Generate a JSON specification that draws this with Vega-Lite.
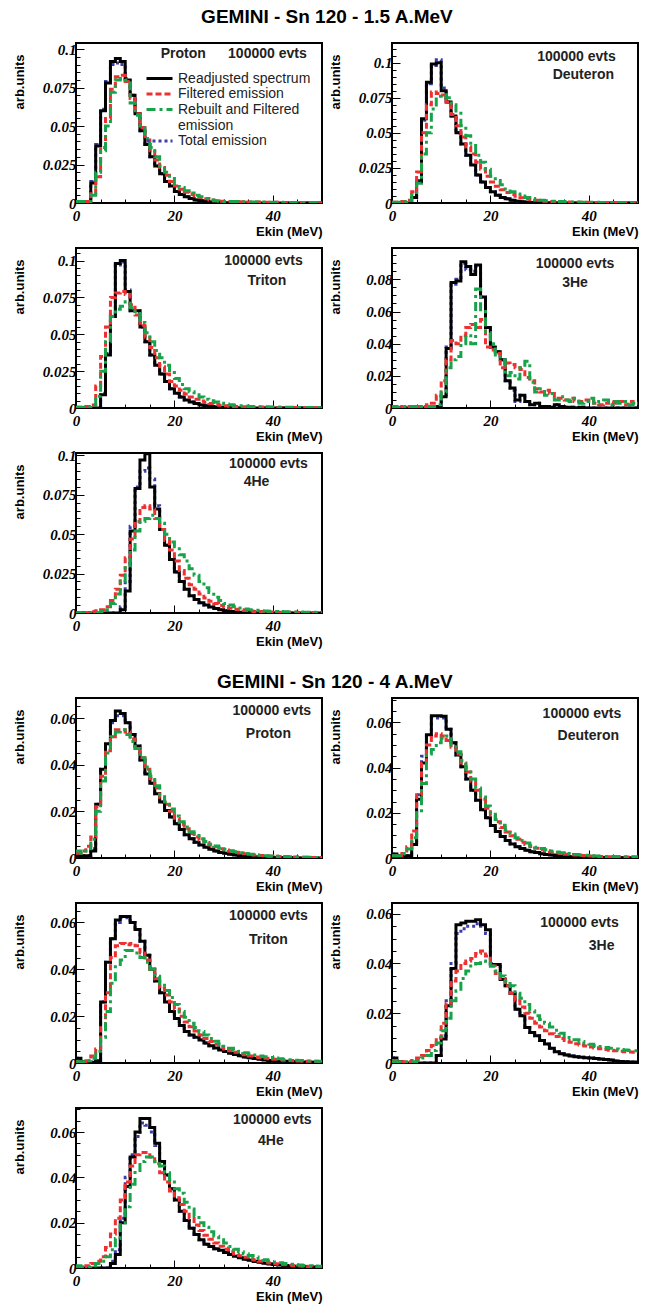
{
"padding":{"left":12,"top":8,"right":4,"bottom":4},
"background":"white",
"config":{
 "view":{"stroke":"#000","strokeWidth":2},
 "axis":{"domain":false,"grid":false,"tickColor":"#000","tickWidth":1,"labelColor":"#000","labelFont":"Liberation Serif","labelFontStyle":"italic","labelFontWeight":"bold","labelFontSize":15,"titleFont":"Liberation Sans","titleFontWeight":"bold","titleFontSize":13,"titleColor":"#000","labelPadding":4,"labelOverlap":false,"labelFlush":false},
 "axisX":{"titleAnchor":"end","titleAlign":"right","titleBaseline":"alphabetic","titleY":32,"labelPadding":13},
 "axisY":{"titleAnchor":"end","titleAlign":"right","titleAngle":270,"titleBaseline":"middle","titleX":-57,"titleY":11,"labelPadding":8}
},
"datasets":{"h":[
{"p":1,"x":0,"R":0,"F":0.001,"B":0.001,"T":0},
{"p":1,"x":1,"R":0,"F":0.001,"B":0.001,"T":0},
{"p":1,"x":2,"R":0.001,"F":0.001,"B":0.001,"T":0.001},
{"p":1,"x":3,"R":0.013,"F":0.006,"B":0.005,"T":0.014},
{"p":1,"x":4,"R":0.037,"F":0.017,"B":0.02,"T":0.038},
{"p":1,"x":5,"R":0.06,"F":0.036,"B":0.034,"T":0.061},
{"p":1,"x":6,"R":0.078,"F":0.055,"B":0.05,"T":0.079},
{"p":1,"x":7,"R":0.092,"F":0.074,"B":0.072,"T":0.09},
{"p":1,"x":8,"R":0.094,"F":0.082,"B":0.08,"T":0.091},
{"p":1,"x":9,"R":0.092,"F":0.083,"B":0.081,"T":0.09},
{"p":1,"x":10,"R":0.08,"F":0.079,"B":0.08,"T":0.081},
{"p":1,"x":11,"R":0.07,"F":0.068,"B":0.065,"T":0.07},
{"p":1,"x":12,"R":0.058,"F":0.058,"B":0.057,"T":0.058},
{"p":1,"x":13,"R":0.047,"F":0.049,"B":0.05,"T":0.047},
{"p":1,"x":14,"R":0.038,"F":0.041,"B":0.042,"T":0.038},
{"p":1,"x":15,"R":0.03,"F":0.034,"B":0.036,"T":0.03},
{"p":1,"x":16,"R":0.024,"F":0.028,"B":0.03,"T":0.024},
{"p":1,"x":17,"R":0.019,"F":0.023,"B":0.024,"T":0.019},
{"p":1,"x":18,"R":0.014,"F":0.018,"B":0.02,"T":0.014},
{"p":1,"x":19,"R":0.011,"F":0.014,"B":0.016,"T":0.011},
{"p":1,"x":20,"R":0.0075,"F":0.011,"B":0.012,"T":0.0075},
{"p":1,"x":21,"R":0.0055,"F":0.009,"B":0.01,"T":0.0055},
{"p":1,"x":22,"R":0.004,"F":0.007,"B":0.008,"T":0.004},
{"p":1,"x":23,"R":0.003,"F":0.0055,"B":0.0065,"T":0.003},
{"p":1,"x":24,"R":0.002,"F":0.0045,"B":0.005,"T":0.002},
{"p":1,"x":25,"R":0.0015,"F":0.0035,"B":0.004,"T":0.0015},
{"p":1,"x":26,"R":0.001,"F":0.0027,"B":0.003,"T":0.001},
{"p":1,"x":27,"R":0.0006,"F":0.002,"B":0.002,"T":0.0006},
{"p":1,"x":28,"R":0.0004,"F":0.0015,"B":0.0015,"T":0.0004},
{"p":1,"x":29,"R":0.0002,"F":0.0012,"B":0.0012,"T":0.0002},
{"p":1,"x":30,"R":0.0001,"F":0.001,"B":0.001,"T":0.0001},
{"p":1,"x":31,"R":0.0001,"F":0.0009,"B":0.001,"T":0.0001},
{"p":1,"x":32,"R":0,"F":0.0008,"B":0.0009,"T":0},
{"p":1,"x":33,"R":0,"F":0.0008,"B":0.0008,"T":0},
{"p":1,"x":34,"R":0,"F":0.0007,"B":0.0008,"T":0},
{"p":1,"x":35,"R":0,"F":0.0007,"B":0.0007,"T":0},
{"p":1,"x":36,"R":0,"F":0.0006,"B":0.0007,"T":0},
{"p":1,"x":37,"R":0,"F":0.0006,"B":0.0006,"T":0},
{"p":1,"x":38,"R":0,"F":0.0005,"B":0.0006,"T":0},
{"p":1,"x":39,"R":0,"F":0.0005,"B":0.0005,"T":0},
{"p":1,"x":40,"R":0,"F":0.0005,"B":0.0005,"T":0},
{"p":1,"x":41,"R":0,"F":0.0004,"B":0.0005,"T":0},
{"p":1,"x":42,"R":0,"F":0.0004,"B":0.0004,"T":0},
{"p":1,"x":43,"R":0,"F":0.0004,"B":0.0004,"T":0},
{"p":1,"x":44,"R":0,"F":0.0003,"B":0.0004,"T":0},
{"p":1,"x":45,"R":0,"F":0.0003,"B":0.0003,"T":0},
{"p":1,"x":46,"R":0,"F":0.0003,"B":0.0003,"T":0},
{"p":1,"x":47,"R":0,"F":0.0003,"B":0.0003,"T":0},
{"p":1,"x":48,"R":0,"F":0.0002,"B":0.0003,"T":0},
{"p":1,"x":49,"R":0,"F":0.0002,"B":0.0002,"T":0},
{"p":1,"x":50,"R":0,"F":0.0002,"B":0.0002,"T":0},
{"p":2,"x":0,"R":0,"F":0.0005,"B":0.0005,"T":0},
{"p":2,"x":1,"R":0,"F":0.0005,"B":0.0005,"T":0},
{"p":2,"x":2,"R":0,"F":0.001,"B":0.001,"T":0},
{"p":2,"x":3,"R":0,"F":0.002,"B":0.002,"T":0},
{"p":2,"x":4,"R":0.004,"F":0.008,"B":0.006,"T":0.004},
{"p":2,"x":5,"R":0.015,"F":0.022,"B":0.014,"T":0.016},
{"p":2,"x":6,"R":0.06,"F":0.05,"B":0.035,"T":0.059},
{"p":2,"x":7,"R":0.086,"F":0.07,"B":0.05,"T":0.085},
{"p":2,"x":8,"R":0.099,"F":0.079,"B":0.067,"T":0.098},
{"p":2,"x":9,"R":0.1,"F":0.078,"B":0.076,"T":0.102},
{"p":2,"x":10,"R":0.08,"F":0.077,"B":0.077,"T":0.082},
{"p":2,"x":11,"R":0.072,"F":0.072,"B":0.075,"T":0.072},
{"p":2,"x":12,"R":0.062,"F":0.063,"B":0.07,"T":0.062},
{"p":2,"x":13,"R":0.05,"F":0.055,"B":0.064,"T":0.05},
{"p":2,"x":14,"R":0.042,"F":0.047,"B":0.055,"T":0.042},
{"p":2,"x":15,"R":0.034,"F":0.04,"B":0.048,"T":0.034},
{"p":2,"x":16,"R":0.027,"F":0.035,"B":0.041,"T":0.027},
{"p":2,"x":17,"R":0.02,"F":0.029,"B":0.034,"T":0.02},
{"p":2,"x":18,"R":0.015,"F":0.024,"B":0.029,"T":0.015},
{"p":2,"x":19,"R":0.011,"F":0.019,"B":0.024,"T":0.011},
{"p":2,"x":20,"R":0.008,"F":0.015,"B":0.019,"T":0.008},
{"p":2,"x":21,"R":0.0055,"F":0.012,"B":0.016,"T":0.0055},
{"p":2,"x":22,"R":0.004,"F":0.0095,"B":0.013,"T":0.004},
{"p":2,"x":23,"R":0.003,"F":0.0075,"B":0.01,"T":0.003},
{"p":2,"x":24,"R":0.002,"F":0.006,"B":0.008,"T":0.002},
{"p":2,"x":25,"R":0.0013,"F":0.0048,"B":0.0065,"T":0.0013},
{"p":2,"x":26,"R":0.0009,"F":0.0038,"B":0.005,"T":0.0009},
{"p":2,"x":27,"R":0.0006,"F":0.003,"B":0.004,"T":0.0006},
{"p":2,"x":28,"R":0.0004,"F":0.0024,"B":0.0032,"T":0.0004},
{"p":2,"x":29,"R":0.0003,"F":0.0019,"B":0.0025,"T":0.0003},
{"p":2,"x":30,"R":0.0002,"F":0.0015,"B":0.002,"T":0.0002},
{"p":2,"x":31,"R":0.0001,"F":0.0012,"B":0.0016,"T":0.0001},
{"p":2,"x":32,"R":0,"F":0.001,"B":0.0013,"T":0},
{"p":2,"x":33,"R":0,"F":0.0009,"B":0.0011,"T":0},
{"p":2,"x":34,"R":0,"F":0.0008,"B":0.001,"T":0},
{"p":2,"x":35,"R":0,"F":0.0007,"B":0.0009,"T":0},
{"p":2,"x":36,"R":0,"F":0.0006,"B":0.0008,"T":0},
{"p":2,"x":37,"R":0,"F":0.0006,"B":0.0007,"T":0},
{"p":2,"x":38,"R":0,"F":0.0005,"B":0.0006,"T":0},
{"p":2,"x":39,"R":0,"F":0.0005,"B":0.0006,"T":0},
{"p":2,"x":40,"R":0,"F":0.0004,"B":0.0005,"T":0},
{"p":2,"x":41,"R":0,"F":0.0004,"B":0.0005,"T":0},
{"p":2,"x":42,"R":0,"F":0.0004,"B":0.0004,"T":0},
{"p":2,"x":43,"R":0,"F":0.0003,"B":0.0004,"T":0},
{"p":2,"x":44,"R":0,"F":0.0003,"B":0.0004,"T":0},
{"p":2,"x":45,"R":0,"F":0.0003,"B":0.0003,"T":0},
{"p":2,"x":46,"R":0,"F":0.0003,"B":0.0003,"T":0},
{"p":2,"x":47,"R":0,"F":0.0002,"B":0.0003,"T":0},
{"p":2,"x":48,"R":0,"F":0.0002,"B":0.0003,"T":0},
{"p":2,"x":49,"R":0,"F":0.0002,"B":0.0002,"T":0},
{"p":2,"x":50,"R":0,"F":0.0002,"B":0.0002,"T":0},
{"p":3,"x":0,"R":0,"F":0.0005,"B":0.0005,"T":0},
{"p":3,"x":1,"R":0,"F":0.0005,"B":0.0005,"T":0},
{"p":3,"x":2,"R":0,"F":0.001,"B":0.001,"T":0},
{"p":3,"x":3,"R":0,"F":0.002,"B":0.002,"T":0},
{"p":3,"x":4,"R":0,"F":0.015,"B":0.008,"T":0},
{"p":3,"x":5,"R":0.009,"F":0.035,"B":0.025,"T":0.01},
{"p":3,"x":6,"R":0.036,"F":0.055,"B":0.045,"T":0.037},
{"p":3,"x":7,"R":0.062,"F":0.075,"B":0.062,"T":0.063},
{"p":3,"x":8,"R":0.098,"F":0.078,"B":0.067,"T":0.097},
{"p":3,"x":9,"R":0.1,"F":0.079,"B":0.069,"T":0.099},
{"p":3,"x":10,"R":0.079,"F":0.077,"B":0.072,"T":0.08},
{"p":3,"x":11,"R":0.066,"F":0.07,"B":0.068,"T":0.066},
{"p":3,"x":12,"R":0.066,"F":0.063,"B":0.064,"T":0.066},
{"p":3,"x":13,"R":0.055,"F":0.056,"B":0.058,"T":0.055},
{"p":3,"x":14,"R":0.045,"F":0.048,"B":0.051,"T":0.045},
{"p":3,"x":15,"R":0.036,"F":0.041,"B":0.045,"T":0.036},
{"p":3,"x":16,"R":0.029,"F":0.034,"B":0.039,"T":0.029},
{"p":3,"x":17,"R":0.023,"F":0.028,"B":0.034,"T":0.023},
{"p":3,"x":18,"R":0.018,"F":0.023,"B":0.029,"T":0.018},
{"p":3,"x":19,"R":0.013,"F":0.018,"B":0.024,"T":0.013},
{"p":3,"x":20,"R":0.01,"F":0.015,"B":0.02,"T":0.01},
{"p":3,"x":21,"R":0.0075,"F":0.012,"B":0.016,"T":0.0075},
{"p":3,"x":22,"R":0.0055,"F":0.0095,"B":0.013,"T":0.0055},
{"p":3,"x":23,"R":0.004,"F":0.0075,"B":0.011,"T":0.004},
{"p":3,"x":24,"R":0.003,"F":0.006,"B":0.009,"T":0.003},
{"p":3,"x":25,"R":0.002,"F":0.0048,"B":0.0075,"T":0.002},
{"p":3,"x":26,"R":0.0015,"F":0.0038,"B":0.006,"T":0.0015},
{"p":3,"x":27,"R":0.001,"F":0.003,"B":0.005,"T":0.001},
{"p":3,"x":28,"R":0.0007,"F":0.0024,"B":0.004,"T":0.0007},
{"p":3,"x":29,"R":0.0005,"F":0.0019,"B":0.0033,"T":0.0005},
{"p":3,"x":30,"R":0.0003,"F":0.0015,"B":0.0027,"T":0.0003},
{"p":3,"x":31,"R":0.0002,"F":0.0012,"B":0.0022,"T":0.0002},
{"p":3,"x":32,"R":0.0001,"F":0.001,"B":0.0018,"T":0.0001},
{"p":3,"x":33,"R":0,"F":0.0009,"B":0.0015,"T":0},
{"p":3,"x":34,"R":0,"F":0.0008,"B":0.0013,"T":0},
{"p":3,"x":35,"R":0,"F":0.0007,"B":0.0011,"T":0},
{"p":3,"x":36,"R":0,"F":0.0006,"B":0.001,"T":0},
{"p":3,"x":37,"R":0,"F":0.0006,"B":0.0009,"T":0},
{"p":3,"x":38,"R":0,"F":0.0005,"B":0.0008,"T":0},
{"p":3,"x":39,"R":0,"F":0.0005,"B":0.0007,"T":0},
{"p":3,"x":40,"R":0,"F":0.0004,"B":0.0006,"T":0},
{"p":3,"x":41,"R":0,"F":0.0004,"B":0.0006,"T":0},
{"p":3,"x":42,"R":0,"F":0.0004,"B":0.0005,"T":0},
{"p":3,"x":43,"R":0,"F":0.0003,"B":0.0005,"T":0},
{"p":3,"x":44,"R":0,"F":0.0003,"B":0.0004,"T":0},
{"p":3,"x":45,"R":0,"F":0.0003,"B":0.0004,"T":0},
{"p":3,"x":46,"R":0,"F":0.0003,"B":0.0004,"T":0},
{"p":3,"x":47,"R":0,"F":0.0002,"B":0.0003,"T":0},
{"p":3,"x":48,"R":0,"F":0.0002,"B":0.0003,"T":0},
{"p":3,"x":49,"R":0,"F":0.0002,"B":0.0003,"T":0},
{"p":3,"x":50,"R":0,"F":0.0002,"B":0.0003,"T":0},
{"p":4,"x":0,"R":0,"F":0.0005,"B":0.001,"T":0},
{"p":4,"x":1,"R":0,"F":0.001,"B":0.0005,"T":0},
{"p":4,"x":2,"R":0,"F":0.0005,"B":0.001,"T":0},
{"p":4,"x":3,"R":0,"F":0.001,"B":0.0005,"T":0},
{"p":4,"x":4,"R":0,"F":0.0005,"B":0.001,"T":0},
{"p":4,"x":5,"R":0,"F":0.001,"B":0.0005,"T":0},
{"p":4,"x":6,"R":0,"F":0.001,"B":0.001,"T":0},
{"p":4,"x":7,"R":0,"F":0.002,"B":0.001,"T":0},
{"p":4,"x":8,"R":0,"F":0.003,"B":0.001,"T":0},
{"p":4,"x":9,"R":0.001,"F":0.008,"B":0.002,"T":0.001},
{"p":4,"x":10,"R":0.007,"F":0.017,"B":0.01,"T":0.008},
{"p":4,"x":11,"R":0.037,"F":0.03,"B":0.025,"T":0.038},
{"p":4,"x":12,"R":0.078,"F":0.042,"B":0.03,"T":0.077},
{"p":4,"x":13,"R":0.079,"F":0.04,"B":0.032,"T":0.08},
{"p":4,"x":14,"R":0.091,"F":0.045,"B":0.04,"T":0.09},
{"p":4,"x":15,"R":0.088,"F":0.05,"B":0.045,"T":0.086},
{"p":4,"x":16,"R":0.083,"F":0.052,"B":0.04,"T":0.085},
{"p":4,"x":17,"R":0.089,"F":0.05,"B":0.074,"T":0.088},
{"p":4,"x":18,"R":0.069,"F":0.055,"B":0.06,"T":0.069},
{"p":4,"x":19,"R":0.05,"F":0.038,"B":0.047,"T":0.05},
{"p":4,"x":20,"R":0.038,"F":0.036,"B":0.04,"T":0.038},
{"p":4,"x":21,"R":0.035,"F":0.034,"B":0.032,"T":0.035},
{"p":4,"x":22,"R":0.03,"F":0.025,"B":0.03,"T":0.03},
{"p":4,"x":23,"R":0.017,"F":0.028,"B":0.02,"T":0.017},
{"p":4,"x":24,"R":0.0125,"F":0.027,"B":0.022,"T":0.011},
{"p":4,"x":25,"R":0.005,"F":0.025,"B":0.018,"T":0.004},
{"p":4,"x":26,"R":0.008,"F":0.024,"B":0.025,"T":0.008},
{"p":4,"x":27,"R":0.004,"F":0.019,"B":0.029,"T":0.004},
{"p":4,"x":28,"R":0.002,"F":0.017,"B":0.016,"T":0.002},
{"p":4,"x":29,"R":0.003,"F":0.012,"B":0.01,"T":0.003},
{"p":4,"x":30,"R":0.001,"F":0.01,"B":0.012,"T":0.001},
{"p":4,"x":31,"R":0.001,"F":0.011,"B":0.008,"T":0.001},
{"p":4,"x":32,"R":0.0005,"F":0.009,"B":0.009,"T":0.0005},
{"p":4,"x":33,"R":0.002,"F":0.006,"B":0.005,"T":0.002},
{"p":4,"x":34,"R":0.001,"F":0.006,"B":0.007,"T":0.001},
{"p":4,"x":35,"R":0.0005,"F":0.005,"B":0.005,"T":0.0005},
{"p":4,"x":36,"R":0.0005,"F":0.006,"B":0.004,"T":0.0005},
{"p":4,"x":37,"R":0,"F":0.004,"B":0.006,"T":0},
{"p":4,"x":38,"R":0.0005,"F":0.004,"B":0.003,"T":0.0005},
{"p":4,"x":39,"R":0,"F":0.005,"B":0.004,"T":0},
{"p":4,"x":40,"R":0,"F":0.004,"B":0.006,"T":0},
{"p":4,"x":41,"R":0,"F":0.003,"B":0.003,"T":0},
{"p":4,"x":42,"R":0,"F":0.002,"B":0.004,"T":0},
{"p":4,"x":43,"R":0,"F":0.003,"B":0.005,"T":0},
{"p":4,"x":44,"R":0,"F":0.004,"B":0.002,"T":0},
{"p":4,"x":45,"R":0,"F":0.003,"B":0.004,"T":0},
{"p":4,"x":46,"R":0,"F":0.004,"B":0.003,"T":0},
{"p":4,"x":47,"R":0,"F":0.002,"B":0.004,"T":0},
{"p":4,"x":48,"R":0,"F":0.004,"B":0.002,"T":0},
{"p":4,"x":49,"R":0,"F":0.003,"B":0.003,"T":0},
{"p":4,"x":50,"R":0,"F":0.003,"B":0.003,"T":0},
{"p":5,"x":0,"R":0,"F":0,"B":0,"T":0},
{"p":5,"x":1,"R":0,"F":0,"B":0,"T":0},
{"p":5,"x":2,"R":0,"F":0,"B":0,"T":0},
{"p":5,"x":3,"R":0,"F":0.001,"B":0,"T":0},
{"p":5,"x":4,"R":0,"F":0.0015,"B":0,"T":0},
{"p":5,"x":5,"R":0,"F":0.002,"B":0.001,"T":0},
{"p":5,"x":6,"R":0,"F":0.004,"B":0.002,"T":0},
{"p":5,"x":7,"R":0,"F":0.008,"B":0.006,"T":0},
{"p":5,"x":8,"R":0,"F":0.015,"B":0.012,"T":0},
{"p":5,"x":9,"R":0.002,"F":0.024,"B":0.02,"T":0.004},
{"p":5,"x":10,"R":0.014,"F":0.035,"B":0.03,"T":0.02},
{"p":5,"x":11,"R":0.052,"F":0.047,"B":0.04,"T":0.055},
{"p":5,"x":12,"R":0.079,"F":0.058,"B":0.052,"T":0.08},
{"p":5,"x":13,"R":0.097,"F":0.067,"B":0.058,"T":0.09},
{"p":5,"x":14,"R":0.101,"F":0.068,"B":0.06,"T":0.092},
{"p":5,"x":15,"R":0.08,"F":0.066,"B":0.062,"T":0.085},
{"p":5,"x":16,"R":0.066,"F":0.06,"B":0.06,"T":0.068},
{"p":5,"x":17,"R":0.053,"F":0.053,"B":0.057,"T":0.053},
{"p":5,"x":18,"R":0.043,"F":0.046,"B":0.05,"T":0.043},
{"p":5,"x":19,"R":0.034,"F":0.04,"B":0.045,"T":0.034},
{"p":5,"x":20,"R":0.026,"F":0.033,"B":0.042,"T":0.026},
{"p":5,"x":21,"R":0.02,"F":0.027,"B":0.037,"T":0.02},
{"p":5,"x":22,"R":0.015,"F":0.022,"B":0.033,"T":0.015},
{"p":5,"x":23,"R":0.011,"F":0.018,"B":0.028,"T":0.011},
{"p":5,"x":24,"R":0.0085,"F":0.015,"B":0.024,"T":0.0085},
{"p":5,"x":25,"R":0.0065,"F":0.012,"B":0.02,"T":0.0065},
{"p":5,"x":26,"R":0.005,"F":0.0095,"B":0.016,"T":0.005},
{"p":5,"x":27,"R":0.0038,"F":0.0075,"B":0.013,"T":0.0038},
{"p":5,"x":28,"R":0.0028,"F":0.006,"B":0.01,"T":0.0028},
{"p":5,"x":29,"R":0.002,"F":0.0048,"B":0.008,"T":0.002},
{"p":5,"x":30,"R":0.0014,"F":0.0038,"B":0.006,"T":0.0014},
{"p":5,"x":31,"R":0.001,"F":0.003,"B":0.005,"T":0.001},
{"p":5,"x":32,"R":0.0007,"F":0.0024,"B":0.004,"T":0.0007},
{"p":5,"x":33,"R":0.0005,"F":0.002,"B":0.0032,"T":0.0005},
{"p":5,"x":34,"R":0.0003,"F":0.0016,"B":0.0026,"T":0.0003},
{"p":5,"x":35,"R":0.0002,"F":0.0013,"B":0.002,"T":0.0002},
{"p":5,"x":36,"R":0.0001,"F":0.001,"B":0.0018,"T":0.0001},
{"p":5,"x":37,"R":0,"F":0.0009,"B":0.0015,"T":0},
{"p":5,"x":38,"R":0,"F":0.0008,"B":0.0013,"T":0},
{"p":5,"x":39,"R":0,"F":0.0007,"B":0.0011,"T":0},
{"p":5,"x":40,"R":0,"F":0.0006,"B":0.001,"T":0},
{"p":5,"x":41,"R":0,"F":0.0005,"B":0.0009,"T":0},
{"p":5,"x":42,"R":0,"F":0.0005,"B":0.0008,"T":0},
{"p":5,"x":43,"R":0,"F":0.0004,"B":0.0007,"T":0},
{"p":5,"x":44,"R":0,"F":0.0004,"B":0.0006,"T":0},
{"p":5,"x":45,"R":0,"F":0.0003,"B":0.0006,"T":0},
{"p":5,"x":46,"R":0,"F":0.0003,"B":0.0005,"T":0},
{"p":5,"x":47,"R":0,"F":0.0003,"B":0.0005,"T":0},
{"p":5,"x":48,"R":0,"F":0.0002,"B":0.0004,"T":0},
{"p":5,"x":49,"R":0,"F":0.0002,"B":0.0004,"T":0},
{"p":5,"x":50,"R":0,"F":0.0002,"B":0.0004,"T":0},
{"p":6,"x":0,"R":0.001,"F":0.002,"B":0.003,"T":0.001},
{"p":6,"x":1,"R":0.001,"F":0.003,"B":0.002,"T":0.001},
{"p":6,"x":2,"R":0.001,"F":0.005,"B":0.004,"T":0.001},
{"p":6,"x":3,"R":0.003,"F":0.009,"B":0.008,"T":0.004},
{"p":6,"x":4,"R":0.023,"F":0.022,"B":0.02,"T":0.023},
{"p":6,"x":5,"R":0.038,"F":0.035,"B":0.033,"T":0.038},
{"p":6,"x":6,"R":0.049,"F":0.046,"B":0.045,"T":0.049},
{"p":6,"x":7,"R":0.059,"F":0.052,"B":0.052,"T":0.058},
{"p":6,"x":8,"R":0.063,"F":0.055,"B":0.054,"T":0.061},
{"p":6,"x":9,"R":0.062,"F":0.055,"B":0.055,"T":0.061},
{"p":6,"x":10,"R":0.058,"F":0.054,"B":0.053,"T":0.058},
{"p":6,"x":11,"R":0.053,"F":0.051,"B":0.05,"T":0.053},
{"p":6,"x":12,"R":0.048,"F":0.047,"B":0.047,"T":0.048},
{"p":6,"x":13,"R":0.042,"F":0.043,"B":0.043,"T":0.042},
{"p":6,"x":14,"R":0.036,"F":0.038,"B":0.039,"T":0.036},
{"p":6,"x":15,"R":0.032,"F":0.034,"B":0.035,"T":0.032},
{"p":6,"x":16,"R":0.0276,"F":0.03,"B":0.031,"T":0.0276},
{"p":6,"x":17,"R":0.024,"F":0.026,"B":0.027,"T":0.024},
{"p":6,"x":18,"R":0.0204,"F":0.023,"B":0.024,"T":0.0204},
{"p":6,"x":19,"R":0.0176,"F":0.02,"B":0.021,"T":0.0176},
{"p":6,"x":20,"R":0.0147,"F":0.017,"B":0.018,"T":0.0147},
{"p":6,"x":21,"R":0.0122,"F":0.0145,"B":0.0155,"T":0.0122},
{"p":6,"x":22,"R":0.01,"F":0.0125,"B":0.0133,"T":0.01},
{"p":6,"x":23,"R":0.0083,"F":0.0105,"B":0.0113,"T":0.0083},
{"p":6,"x":24,"R":0.0068,"F":0.009,"B":0.0097,"T":0.0068},
{"p":6,"x":25,"R":0.0056,"F":0.0077,"B":0.0083,"T":0.0056},
{"p":6,"x":26,"R":0.0046,"F":0.0066,"B":0.0071,"T":0.0046},
{"p":6,"x":27,"R":0.0037,"F":0.0056,"B":0.006,"T":0.0037},
{"p":6,"x":28,"R":0.003,"F":0.0048,"B":0.0051,"T":0.003},
{"p":6,"x":29,"R":0.0024,"F":0.004,"B":0.0043,"T":0.0024},
{"p":6,"x":30,"R":0.002,"F":0.0034,"B":0.0037,"T":0.002},
{"p":6,"x":31,"R":0.0016,"F":0.0029,"B":0.0031,"T":0.0016},
{"p":6,"x":32,"R":0.0013,"F":0.0025,"B":0.0027,"T":0.0013},
{"p":6,"x":33,"R":0.001,"F":0.0021,"B":0.0023,"T":0.001},
{"p":6,"x":34,"R":0.0008,"F":0.0018,"B":0.0019,"T":0.0008},
{"p":6,"x":35,"R":0.0006,"F":0.0015,"B":0.0016,"T":0.0006},
{"p":6,"x":36,"R":0.0005,"F":0.0013,"B":0.0014,"T":0.0005},
{"p":6,"x":37,"R":0.0004,"F":0.0011,"B":0.0012,"T":0.0004},
{"p":6,"x":38,"R":0.0003,"F":0.001,"B":0.001,"T":0.0003},
{"p":6,"x":39,"R":0.0002,"F":0.0008,"B":0.0009,"T":0.0002},
{"p":6,"x":40,"R":0.0001,"F":0.0007,"B":0.0008,"T":0.0001},
{"p":6,"x":41,"R":0.0001,"F":0.0006,"B":0.0007,"T":0.0001},
{"p":6,"x":42,"R":0.0001,"F":0.0005,"B":0.0006,"T":0.0001},
{"p":6,"x":43,"R":0.0001,"F":0.0004,"B":0.0005,"T":0.0001},
{"p":6,"x":44,"R":0.0001,"F":0.0004,"B":0.0004,"T":0.0001},
{"p":6,"x":45,"R":0,"F":0.0003,"B":0.0004,"T":0},
{"p":6,"x":46,"R":0,"F":0.0003,"B":0.0003,"T":0},
{"p":6,"x":47,"R":0,"F":0.0002,"B":0.0003,"T":0},
{"p":6,"x":48,"R":0,"F":0.0002,"B":0.0002,"T":0},
{"p":6,"x":49,"R":0,"F":0.0002,"B":0.0002,"T":0},
{"p":6,"x":50,"R":0,"F":0.0002,"B":0.0002,"T":0},
{"p":7,"x":0,"R":0.0018,"F":0.001,"B":0.001,"T":0.0018},
{"p":7,"x":1,"R":0.001,"F":0.001,"B":0.001,"T":0.001},
{"p":7,"x":2,"R":0.0005,"F":0.002,"B":0.002,"T":0.0005},
{"p":7,"x":3,"R":0.001,"F":0.005,"B":0.004,"T":0.001},
{"p":7,"x":4,"R":0.006,"F":0.012,"B":0.009,"T":0.007},
{"p":7,"x":5,"R":0.026,"F":0.028,"B":0.02,"T":0.028},
{"p":7,"x":6,"R":0.042,"F":0.042,"B":0.033,"T":0.045},
{"p":7,"x":7,"R":0.0545,"F":0.05,"B":0.046,"T":0.054},
{"p":7,"x":8,"R":0.063,"F":0.054,"B":0.048,"T":0.062},
{"p":7,"x":9,"R":0.063,"F":0.055,"B":0.051,"T":0.062},
{"p":7,"x":10,"R":0.0627,"F":0.054,"B":0.053,"T":0.062},
{"p":7,"x":11,"R":0.057,"F":0.052,"B":0.054,"T":0.057},
{"p":7,"x":12,"R":0.051,"F":0.049,"B":0.05,"T":0.051},
{"p":7,"x":13,"R":0.0456,"F":0.046,"B":0.047,"T":0.0456},
{"p":7,"x":14,"R":0.0404,"F":0.042,"B":0.043,"T":0.0404},
{"p":7,"x":15,"R":0.035,"F":0.038,"B":0.039,"T":0.035},
{"p":7,"x":16,"R":0.03,"F":0.034,"B":0.035,"T":0.03},
{"p":7,"x":17,"R":0.0255,"F":0.03,"B":0.031,"T":0.0255},
{"p":7,"x":18,"R":0.0214,"F":0.026,"B":0.027,"T":0.0214},
{"p":7,"x":19,"R":0.0178,"F":0.022,"B":0.023,"T":0.0178},
{"p":7,"x":20,"R":0.0144,"F":0.019,"B":0.02,"T":0.0144},
{"p":7,"x":21,"R":0.0117,"F":0.016,"B":0.017,"T":0.0117},
{"p":7,"x":22,"R":0.0095,"F":0.0135,"B":0.0145,"T":0.0095},
{"p":7,"x":23,"R":0.0077,"F":0.0115,"B":0.0124,"T":0.0077},
{"p":7,"x":24,"R":0.0062,"F":0.0098,"B":0.0106,"T":0.0062},
{"p":7,"x":25,"R":0.005,"F":0.0083,"B":0.009,"T":0.005},
{"p":7,"x":26,"R":0.0042,"F":0.007,"B":0.0077,"T":0.0042},
{"p":7,"x":27,"R":0.0034,"F":0.006,"B":0.0066,"T":0.0034},
{"p":7,"x":28,"R":0.0028,"F":0.0051,"B":0.0056,"T":0.0028},
{"p":7,"x":29,"R":0.0024,"F":0.0043,"B":0.0048,"T":0.0024},
{"p":7,"x":30,"R":0.0019,"F":0.0037,"B":0.0042,"T":0.0019},
{"p":7,"x":31,"R":0.0016,"F":0.0032,"B":0.0036,"T":0.0016},
{"p":7,"x":32,"R":0.0013,"F":0.0027,"B":0.0031,"T":0.0013},
{"p":7,"x":33,"R":0.0011,"F":0.0023,"B":0.0027,"T":0.0011},
{"p":7,"x":34,"R":0.0009,"F":0.002,"B":0.0023,"T":0.0009},
{"p":7,"x":35,"R":0.0007,"F":0.0017,"B":0.002,"T":0.0007},
{"p":7,"x":36,"R":0.0006,"F":0.0015,"B":0.0018,"T":0.0006},
{"p":7,"x":37,"R":0.0005,"F":0.0013,"B":0.0015,"T":0.0005},
{"p":7,"x":38,"R":0.0004,"F":0.0011,"B":0.0013,"T":0.0004},
{"p":7,"x":39,"R":0.0003,"F":0.001,"B":0.0012,"T":0.0003},
{"p":7,"x":40,"R":0.0003,"F":0.0009,"B":0.001,"T":0.0003},
{"p":7,"x":41,"R":0.0002,"F":0.0008,"B":0.0009,"T":0.0002},
{"p":7,"x":42,"R":0.0002,"F":0.0007,"B":0.0008,"T":0.0002},
{"p":7,"x":43,"R":0.0002,"F":0.0006,"B":0.0007,"T":0.0002},
{"p":7,"x":44,"R":0.0002,"F":0.0006,"B":0.0007,"T":0.0002},
{"p":7,"x":45,"R":0.0002,"F":0.0005,"B":0.0006,"T":0.0002},
{"p":7,"x":46,"R":0.0001,"F":0.0005,"B":0.0005,"T":0.0001},
{"p":7,"x":47,"R":0.0001,"F":0.0004,"B":0.0005,"T":0.0001},
{"p":7,"x":48,"R":0.0001,"F":0.0004,"B":0.0005,"T":0.0001},
{"p":7,"x":49,"R":0.0001,"F":0.0004,"B":0.0004,"T":0.0001},
{"p":7,"x":50,"R":0.0001,"F":0.0004,"B":0.0004,"T":0.0001},
{"p":8,"x":0,"R":0.002,"F":0.0005,"B":0.0005,"T":0.002},
{"p":8,"x":1,"R":0.0005,"F":0.0005,"B":0.0005,"T":0.0005},
{"p":8,"x":2,"R":0.0003,"F":0.001,"B":0.001,"T":0.0003},
{"p":8,"x":3,"R":0.0003,"F":0.003,"B":0.002,"T":0.0003},
{"p":8,"x":4,"R":0.001,"F":0.006,"B":0.005,"T":0.001},
{"p":8,"x":5,"R":0.026,"F":0.015,"B":0.011,"T":0.026},
{"p":8,"x":6,"R":0.043,"F":0.03,"B":0.022,"T":0.043},
{"p":8,"x":7,"R":0.053,"F":0.045,"B":0.034,"T":0.053},
{"p":8,"x":8,"R":0.061,"F":0.05,"B":0.042,"T":0.06},
{"p":8,"x":9,"R":0.0625,"F":0.051,"B":0.044,"T":0.062},
{"p":8,"x":10,"R":0.0625,"F":0.0505,"B":0.048,"T":0.062},
{"p":8,"x":11,"R":0.06,"F":0.051,"B":0.048,"T":0.06},
{"p":8,"x":12,"R":0.057,"F":0.05,"B":0.047,"T":0.057},
{"p":8,"x":13,"R":0.052,"F":0.047,"B":0.045,"T":0.052},
{"p":8,"x":14,"R":0.046,"F":0.044,"B":0.043,"T":0.046},
{"p":8,"x":15,"R":0.04,"F":0.04,"B":0.04,"T":0.04},
{"p":8,"x":16,"R":0.035,"F":0.036,"B":0.037,"T":0.035},
{"p":8,"x":17,"R":0.03,"F":0.032,"B":0.034,"T":0.03},
{"p":8,"x":18,"R":0.026,"F":0.029,"B":0.031,"T":0.026},
{"p":8,"x":19,"R":0.022,"F":0.026,"B":0.028,"T":0.022},
{"p":8,"x":20,"R":0.019,"F":0.023,"B":0.025,"T":0.019},
{"p":8,"x":21,"R":0.016,"F":0.02,"B":0.022,"T":0.016},
{"p":8,"x":22,"R":0.0135,"F":0.0175,"B":0.0195,"T":0.0135},
{"p":8,"x":23,"R":0.012,"F":0.0155,"B":0.017,"T":0.012},
{"p":8,"x":24,"R":0.011,"F":0.0137,"B":0.0152,"T":0.011},
{"p":8,"x":25,"R":0.0098,"F":0.012,"B":0.0135,"T":0.0098},
{"p":8,"x":26,"R":0.0085,"F":0.0105,"B":0.012,"T":0.0085},
{"p":8,"x":27,"R":0.0074,"F":0.0092,"B":0.0105,"T":0.0074},
{"p":8,"x":28,"R":0.0064,"F":0.008,"B":0.0093,"T":0.0064},
{"p":8,"x":29,"R":0.0056,"F":0.007,"B":0.0082,"T":0.0056},
{"p":8,"x":30,"R":0.0049,"F":0.006,"B":0.0072,"T":0.0049},
{"p":8,"x":31,"R":0.0042,"F":0.0052,"B":0.0063,"T":0.0042},
{"p":8,"x":32,"R":0.0036,"F":0.0046,"B":0.0056,"T":0.0036},
{"p":8,"x":33,"R":0.0031,"F":0.004,"B":0.005,"T":0.0031},
{"p":8,"x":34,"R":0.0026,"F":0.0035,"B":0.0044,"T":0.0026},
{"p":8,"x":35,"R":0.0022,"F":0.003,"B":0.0039,"T":0.0022},
{"p":8,"x":36,"R":0.0019,"F":0.0026,"B":0.0034,"T":0.0019},
{"p":8,"x":37,"R":0.0016,"F":0.0023,"B":0.003,"T":0.0016},
{"p":8,"x":38,"R":0.0013,"F":0.002,"B":0.0027,"T":0.0013},
{"p":8,"x":39,"R":0.0011,"F":0.0018,"B":0.0024,"T":0.0011},
{"p":8,"x":40,"R":0.0009,"F":0.0016,"B":0.0021,"T":0.0009},
{"p":8,"x":41,"R":0.0008,"F":0.0014,"B":0.0018,"T":0.0008},
{"p":8,"x":42,"R":0.0007,"F":0.0012,"B":0.0016,"T":0.0007},
{"p":8,"x":43,"R":0.0006,"F":0.0011,"B":0.0014,"T":0.0006},
{"p":8,"x":44,"R":0.0005,"F":0.001,"B":0.0012,"T":0.0005},
{"p":8,"x":45,"R":0.0004,"F":0.0009,"B":0.0011,"T":0.0004},
{"p":8,"x":46,"R":0.0004,"F":0.0008,"B":0.001,"T":0.0004},
{"p":8,"x":47,"R":0.0003,"F":0.0007,"B":0.0009,"T":0.0003},
{"p":8,"x":48,"R":0.0003,"F":0.0007,"B":0.0008,"T":0.0003},
{"p":8,"x":49,"R":0.0002,"F":0.0006,"B":0.0008,"T":0.0002},
{"p":8,"x":50,"R":0.0002,"F":0.0006,"B":0.0008,"T":0.0002},
{"p":9,"x":0,"R":0.002,"F":0.001,"B":0.0005,"T":0.002},
{"p":9,"x":1,"R":0.0005,"F":0.0005,"B":0.0005,"T":0.0005},
{"p":9,"x":2,"R":0,"F":0.0005,"B":0.0005,"T":0},
{"p":9,"x":3,"R":0,"F":0.0005,"B":0.0005,"T":0},
{"p":9,"x":4,"R":0,"F":0.001,"B":0.0005,"T":0},
{"p":9,"x":5,"R":0,"F":0.002,"B":0.001,"T":0},
{"p":9,"x":6,"R":0,"F":0.003,"B":0.002,"T":0},
{"p":9,"x":7,"R":0,"F":0.005,"B":0.003,"T":0},
{"p":9,"x":8,"R":0,"F":0.007,"B":0.005,"T":0},
{"p":9,"x":9,"R":0.003,"F":0.01,"B":0.008,"T":0.003},
{"p":9,"x":10,"R":0.0096,"F":0.016,"B":0.013,"T":0.011},
{"p":9,"x":11,"R":0.023,"F":0.024,"B":0.018,"T":0.025},
{"p":9,"x":12,"R":0.038,"F":0.033,"B":0.025,"T":0.04},
{"p":9,"x":13,"R":0.0556,"F":0.037,"B":0.029,"T":0.052},
{"p":9,"x":14,"R":0.0563,"F":0.04,"B":0.034,"T":0.054},
{"p":9,"x":15,"R":0.057,"F":0.041,"B":0.037,"T":0.055},
{"p":9,"x":16,"R":0.057,"F":0.042,"B":0.039,"T":0.055},
{"p":9,"x":17,"R":0.0576,"F":0.044,"B":0.04,"T":0.056},
{"p":9,"x":18,"R":0.0556,"F":0.045,"B":0.041,"T":0.055},
{"p":9,"x":19,"R":0.0536,"F":0.043,"B":0.04,"T":0.052},
{"p":9,"x":20,"R":0.0396,"F":0.039,"B":0.039,"T":0.04},
{"p":9,"x":21,"R":0.0396,"F":0.036,"B":0.037,"T":0.0396},
{"p":9,"x":22,"R":0.0336,"F":0.034,"B":0.035,"T":0.0336},
{"p":9,"x":23,"R":0.031,"F":0.031,"B":0.033,"T":0.031},
{"p":9,"x":24,"R":0.028,"F":0.028,"B":0.031,"T":0.028},
{"p":9,"x":25,"R":0.0216,"F":0.025,"B":0.028,"T":0.0216},
{"p":9,"x":26,"R":0.019,"F":0.0225,"B":0.026,"T":0.019},
{"p":9,"x":27,"R":0.0143,"F":0.02,"B":0.0235,"T":0.0143},
{"p":9,"x":28,"R":0.0123,"F":0.018,"B":0.021,"T":0.0123},
{"p":9,"x":29,"R":0.011,"F":0.016,"B":0.019,"T":0.011},
{"p":9,"x":30,"R":0.009,"F":0.0145,"B":0.0175,"T":0.009},
{"p":9,"x":31,"R":0.0076,"F":0.013,"B":0.016,"T":0.0076},
{"p":9,"x":32,"R":0.0059,"F":0.0118,"B":0.0145,"T":0.0059},
{"p":9,"x":33,"R":0.0045,"F":0.0107,"B":0.0132,"T":0.0045},
{"p":9,"x":34,"R":0.0037,"F":0.0098,"B":0.012,"T":0.0037},
{"p":9,"x":35,"R":0.0032,"F":0.009,"B":0.011,"T":0.0032},
{"p":9,"x":36,"R":0.0028,"F":0.0083,"B":0.0101,"T":0.0028},
{"p":9,"x":37,"R":0.0025,"F":0.0077,"B":0.0093,"T":0.0025},
{"p":9,"x":38,"R":0.0023,"F":0.0072,"B":0.0086,"T":0.0023},
{"p":9,"x":39,"R":0.0021,"F":0.0068,"B":0.008,"T":0.0021},
{"p":9,"x":40,"R":0.002,"F":0.0064,"B":0.0075,"T":0.002},
{"p":9,"x":41,"R":0.0018,"F":0.006,"B":0.007,"T":0.0018},
{"p":9,"x":42,"R":0.0016,"F":0.0057,"B":0.0066,"T":0.0016},
{"p":9,"x":43,"R":0.0014,"F":0.0054,"B":0.0062,"T":0.0014},
{"p":9,"x":44,"R":0.0012,"F":0.0051,"B":0.0059,"T":0.0012},
{"p":9,"x":45,"R":0.0008,"F":0.0049,"B":0.0056,"T":0.0008},
{"p":9,"x":46,"R":0.0006,"F":0.0047,"B":0.0054,"T":0.0006},
{"p":9,"x":47,"R":0.0005,"F":0.0045,"B":0.0052,"T":0.0005},
{"p":9,"x":48,"R":0.0004,"F":0.0044,"B":0.005,"T":0.0004},
{"p":9,"x":49,"R":0.0004,"F":0.0043,"B":0.0049,"T":0.0004},
{"p":9,"x":50,"R":0.0004,"F":0.0043,"B":0.0049,"T":0.0004},
{"p":10,"x":0,"R":0,"F":0.0005,"B":0.001,"T":0},
{"p":10,"x":1,"R":0,"F":0.0005,"B":0.0005,"T":0},
{"p":10,"x":2,"R":0,"F":0.001,"B":0.0005,"T":0},
{"p":10,"x":3,"R":0,"F":0.002,"B":0.001,"T":0},
{"p":10,"x":4,"R":0,"F":0.003,"B":0.002,"T":0},
{"p":10,"x":5,"R":0,"F":0.005,"B":0.003,"T":0},
{"p":10,"x":6,"R":0,"F":0.009,"B":0.005,"T":0},
{"p":10,"x":7,"R":0.002,"F":0.015,"B":0.008,"T":0.003},
{"p":10,"x":8,"R":0.006,"F":0.022,"B":0.013,"T":0.008},
{"p":10,"x":9,"R":0.02,"F":0.03,"B":0.02,"T":0.022},
{"p":10,"x":10,"R":0.036,"F":0.038,"B":0.027,"T":0.04},
{"p":10,"x":11,"R":0.049,"F":0.045,"B":0.037,"T":0.05},
{"p":10,"x":12,"R":0.06,"F":0.05,"B":0.043,"T":0.058},
{"p":10,"x":13,"R":0.066,"F":0.051,"B":0.047,"T":0.064},
{"p":10,"x":14,"R":0.066,"F":0.051,"B":0.049,"T":0.063},
{"p":10,"x":15,"R":0.062,"F":0.049,"B":0.049,"T":0.06},
{"p":10,"x":16,"R":0.055,"F":0.046,"B":0.047,"T":0.054},
{"p":10,"x":17,"R":0.047,"F":0.042,"B":0.045,"T":0.047},
{"p":10,"x":18,"R":0.041,"F":0.038,"B":0.042,"T":0.041},
{"p":10,"x":19,"R":0.035,"F":0.034,"B":0.039,"T":0.035},
{"p":10,"x":20,"R":0.03,"F":0.031,"B":0.035,"T":0.03},
{"p":10,"x":21,"R":0.025,"F":0.028,"B":0.033,"T":0.025},
{"p":10,"x":22,"R":0.021,"F":0.025,"B":0.029,"T":0.021},
{"p":10,"x":23,"R":0.0175,"F":0.022,"B":0.026,"T":0.0175},
{"p":10,"x":24,"R":0.0148,"F":0.019,"B":0.023,"T":0.0148},
{"p":10,"x":25,"R":0.0125,"F":0.0165,"B":0.02,"T":0.0125},
{"p":10,"x":26,"R":0.0105,"F":0.0145,"B":0.018,"T":0.0105},
{"p":10,"x":27,"R":0.0095,"F":0.0127,"B":0.016,"T":0.0095},
{"p":10,"x":28,"R":0.0085,"F":0.011,"B":0.014,"T":0.0085},
{"p":10,"x":29,"R":0.0078,"F":0.0096,"B":0.0125,"T":0.0078},
{"p":10,"x":30,"R":0.0068,"F":0.0083,"B":0.011,"T":0.0068},
{"p":10,"x":31,"R":0.006,"F":0.0072,"B":0.0095,"T":0.006},
{"p":10,"x":32,"R":0.0052,"F":0.0062,"B":0.0083,"T":0.0052},
{"p":10,"x":33,"R":0.0045,"F":0.0054,"B":0.0072,"T":0.0045},
{"p":10,"x":34,"R":0.0039,"F":0.0047,"B":0.0063,"T":0.0039},
{"p":10,"x":35,"R":0.0034,"F":0.004,"B":0.0055,"T":0.0034},
{"p":10,"x":36,"R":0.0029,"F":0.0035,"B":0.0048,"T":0.0029},
{"p":10,"x":37,"R":0.0025,"F":0.003,"B":0.0042,"T":0.0025},
{"p":10,"x":38,"R":0.0021,"F":0.0026,"B":0.0036,"T":0.0021},
{"p":10,"x":39,"R":0.0018,"F":0.0022,"B":0.0031,"T":0.0018},
{"p":10,"x":40,"R":0.0015,"F":0.0019,"B":0.0027,"T":0.0015},
{"p":10,"x":41,"R":0.0013,"F":0.0016,"B":0.0023,"T":0.0013},
{"p":10,"x":42,"R":0.0011,"F":0.0014,"B":0.002,"T":0.0011},
{"p":10,"x":43,"R":0.0009,"F":0.0012,"B":0.0017,"T":0.0009},
{"p":10,"x":44,"R":0.0008,"F":0.001,"B":0.0015,"T":0.0008},
{"p":10,"x":45,"R":0.0007,"F":0.0009,"B":0.0013,"T":0.0007},
{"p":10,"x":46,"R":0.0006,"F":0.0008,"B":0.0011,"T":0.0006},
{"p":10,"x":47,"R":0.0005,"F":0.0007,"B":0.001,"T":0.0005},
{"p":10,"x":48,"R":0.0004,"F":0.0006,"B":0.0009,"T":0.0004},
{"p":10,"x":49,"R":0.0004,"F":0.0005,"B":0.0008,"T":0.0004},
{"p":10,"x":50,"R":0.0004,"F":0.0005,"B":0.0008,"T":0.0004}
]},
"spacing":24,
"resolve":{"scale":{"color":"independent","strokeDash":"independent"},"legend":{"color":"independent","strokeDash":"independent"}},
"vconcat":[
{"title":{"text":"GEMINI - Sn 120 - 1.5 A.MeV","anchor":"middle","align":"right","dx":127,"dy":1,"baseline":"alphabetic","offset":0,"font":"Liberation Sans","fontSize":19,"fontWeight":"bold","color":"#000"},
 "columns":2,"spacing":{"row":45,"column":70},"bounds":"flush",
 "resolve":{"scale":{"color":"independent","strokeDash":"independent"},"legend":{"color":"independent","strokeDash":"independent"}},
 "concat":[
  {"width":246,"height":160,"resolve":{"axis":{"x":"independent","y":"independent"}},"layer":[
   {"data":{"name":"h"},"transform":[{"filter":"datum.p==1"},{"fold":["T","R","F","B"],"as":["s","v"]}],
    "mark":{"type":"line","interpolate":"step-after","strokeWidth":3,"clip":true},
    "encoding":{
     "x":{"field":"x","type":"quantitative","scale":{"domain":[0,50],"nice":false},"axis":{"labelOverlap":false,"values":[0,20,40],"labelExpr":"format(datum.value,'d')","tickSize":-8,"title":"Ekin (MeV)"}},
     "y":{"field":"v","type":"quantitative","scale":{"domain":[0,0.104],"nice":false},"axis":{"labelOverlap":false,"values":[0,0.025,0.05,0.075,0.1],"labelExpr":"format(datum.value,'~g')","tickSize":-8,"title":"arb.units"}},
     "color":{"field":"s","type":"nominal","scale":{"domain":["R","F","B","T"],"range":["#000000","#ee3030","#17a34a","#3a3fa5"]},"legend":{"orient":"none","legendX":76.5,"legendY":28.5,"gridAlign":"none","title":null,"symbolType":"M-2.6,0H2.6","symbolSize":100,"symbolStrokeWidth":3,"labelFont":"Liberation Sans","labelFontSize":14,"labelColor":"#222","labelLimit":400,"labelOffset":11.5,"rowPadding":1.5,"labelExpr":"datum.value=='R'?'Readjusted spectrum':datum.value=='F'?'Filtered emission':datum.value=='B'?['Rebuilt and Filtered','emission']:'Total emission'"}},
     "strokeDash":{"field":"s","type":"nominal","scale":{"domain":["R","F","B","T"],"range":[[1,0],[6,3],[9,4,3,4],[3,3]]},"legend":{"orient":"none","legendX":76.5,"legendY":28.5,"gridAlign":"none","title":null,"symbolType":"M-2.6,0H2.6","symbolSize":100,"symbolStrokeWidth":3,"labelFont":"Liberation Sans","labelFontSize":14,"labelColor":"#222","labelLimit":400,"labelOffset":11.5,"rowPadding":1.5,"labelExpr":"datum.value=='R'?'Readjusted spectrum':datum.value=='F'?'Filtered emission':datum.value=='B'?['Rebuilt and Filtered','emission']:'Total emission'"}}}},
   {"data":{"values":[{"t":"Proton"}]},"mark":{"type":"text","font":"Liberation Sans","fontWeight":"bold","fontSize":14,"color":"#222"},"encoding":{"x":{"datum":21.8,"axis":{"orient":"bottom","values":[0,5,10,15,20,25,30,35,40,45,50],"tickSize":-4,"labels":false,"title":null}},"y":{"datum":0.097,"axis":{"orient":"left","values":[0,0.005,0.01,0.015,0.02,0.025,0.03,0.035,0.04,0.045,0.05,0.055,0.06,0.065,0.07,0.075,0.08,0.085,0.09,0.095,0.1],"tickSize":-4,"labels":false,"title":null}},"text":{"field":"t"}}},
   {"data":{"values":[{"t":"100000 evts"}]},"mark":{"type":"text","font":"Liberation Sans","fontWeight":"bold","fontSize":14,"color":"#222"},"encoding":{"x":{"datum":38.9,"axis":null},"y":{"datum":0.097,"axis":null},"text":{"field":"t"}}}
  ]},
  {"width":246,"height":160,"resolve":{"axis":{"x":"independent","y":"independent"}},"layer":[
   {"data":{"name":"h"},"transform":[{"filter":"datum.p==2"},{"fold":["T","R","F","B"],"as":["s","v"]}],
    "mark":{"type":"line","interpolate":"step-after","strokeWidth":3,"clip":true},
    "encoding":{
     "x":{"field":"x","type":"quantitative","scale":{"domain":[0,50],"nice":false},"axis":{"labelOverlap":false,"values":[0,20,40],"labelExpr":"format(datum.value,'d')","tickSize":-8,"title":"Ekin (MeV)"}},
     "y":{"field":"v","type":"quantitative","scale":{"domain":[0,0.114],"nice":false},"axis":{"labelOverlap":false,"values":[0,0.025,0.05,0.075,0.1],"labelExpr":"format(datum.value,'~g')","tickSize":-8,"title":"arb.units"}},
     "color":{"field":"s","type":"nominal","scale":{"domain":["R","F","B","T"],"range":["#000000","#ee3030","#17a34a","#3a3fa5"]},"legend":null},
     "strokeDash":{"field":"s","type":"nominal","scale":{"domain":["R","F","B","T"],"range":[[1,0],[6,3],[9,4,3,4],[3,3]]},"legend":null}}},
   {"data":{"values":[{"t":"100000 evts"}]},"mark":{"type":"text","font":"Liberation Sans","fontWeight":"bold","fontSize":14,"color":"#222"},"encoding":{"x":{"datum":37.5,"axis":{"orient":"bottom","values":[0,5,10,15,20,25,30,35,40,45,50],"tickSize":-4,"labels":false,"title":null}},"y":{"datum":0.104,"axis":{"orient":"left","values":[0,0.005,0.01,0.015,0.02,0.025,0.03,0.035,0.04,0.045,0.05,0.055,0.06,0.065,0.07,0.075,0.08,0.085,0.09,0.095,0.1,0.105,0.11],"tickSize":-4,"labels":false,"title":null}},"text":{"field":"t"}}},
   {"data":{"values":[{"t":"Deuteron"}]},"mark":{"type":"text","font":"Liberation Sans","fontWeight":"bold","fontSize":14,"color":"#222"},"encoding":{"x":{"datum":38.9,"axis":null},"y":{"datum":0.091,"axis":null},"text":{"field":"t"}}}
  ]},
  {"width":246,"height":160,"resolve":{"axis":{"x":"independent","y":"independent"}},"layer":[
   {"data":{"name":"h"},"transform":[{"filter":"datum.p==3"},{"fold":["T","R","F","B"],"as":["s","v"]}],
    "mark":{"type":"line","interpolate":"step-after","strokeWidth":3,"clip":true},
    "encoding":{
     "x":{"field":"x","type":"quantitative","scale":{"domain":[0,50],"nice":false},"axis":{"labelOverlap":false,"values":[0,20,40],"labelExpr":"format(datum.value,'d')","tickSize":-8,"title":"Ekin (MeV)"}},
     "y":{"field":"v","type":"quantitative","scale":{"domain":[0,0.1085],"nice":false},"axis":{"labelOverlap":false,"values":[0,0.025,0.05,0.075,0.1],"labelExpr":"format(datum.value,'~g')","tickSize":-8,"title":"arb.units"}},
     "color":{"field":"s","type":"nominal","scale":{"domain":["R","F","B","T"],"range":["#000000","#ee3030","#17a34a","#3a3fa5"]},"legend":null},
     "strokeDash":{"field":"s","type":"nominal","scale":{"domain":["R","F","B","T"],"range":[[1,0],[6,3],[9,4,3,4],[3,3]]},"legend":null}}},
   {"data":{"values":[{"t":"100000 evts"}]},"mark":{"type":"text","font":"Liberation Sans","fontWeight":"bold","fontSize":14,"color":"#222"},"encoding":{"x":{"datum":38.1,"axis":{"orient":"bottom","values":[0,5,10,15,20,25,30,35,40,45,50],"tickSize":-4,"labels":false,"title":null}},"y":{"datum":0.1,"axis":{"orient":"left","values":[0,0.005,0.01,0.015,0.02,0.025,0.03,0.035,0.04,0.045,0.05,0.055,0.06,0.065,0.07,0.075,0.08,0.085,0.09,0.095,0.1,0.105],"tickSize":-4,"labels":false,"title":null}},"text":{"field":"t"}}},
   {"data":{"values":[{"t":"Triton"}]},"mark":{"type":"text","font":"Liberation Sans","fontWeight":"bold","fontSize":14,"color":"#222"},"encoding":{"x":{"datum":38.8,"axis":null},"y":{"datum":0.0863,"axis":null},"text":{"field":"t"}}}
  ]},
  {"width":246,"height":160,"resolve":{"axis":{"x":"independent","y":"independent"}},"layer":[
   {"data":{"name":"h"},"transform":[{"filter":"datum.p==4"},{"fold":["T","R","F","B"],"as":["s","v"]}],
    "mark":{"type":"line","interpolate":"step-after","strokeWidth":3,"clip":true},
    "encoding":{
     "x":{"field":"x","type":"quantitative","scale":{"domain":[0,50],"nice":false},"axis":{"labelOverlap":false,"values":[0,20,40],"labelExpr":"format(datum.value,'d')","tickSize":-8,"title":"Ekin (MeV)"}},
     "y":{"field":"v","type":"quantitative","scale":{"domain":[0,0.0995],"nice":false},"axis":{"labelOverlap":false,"values":[0,0.02,0.04,0.06,0.08],"labelExpr":"format(datum.value,'~g')","tickSize":-8,"title":"arb.units"}},
     "color":{"field":"s","type":"nominal","scale":{"domain":["R","F","B","T"],"range":["#000000","#ee3030","#17a34a","#3a3fa5"]},"legend":null},
     "strokeDash":{"field":"s","type":"nominal","scale":{"domain":["R","F","B","T"],"range":[[1,0],[6,3],[9,4,3,4],[3,3]]},"legend":null}}},
   {"data":{"values":[{"t":"100000 evts"}]},"mark":{"type":"text","font":"Liberation Sans","fontWeight":"bold","fontSize":14,"color":"#222"},"encoding":{"x":{"datum":37.2,"axis":{"orient":"bottom","values":[0,5,10,15,20,25,30,35,40,45,50],"tickSize":-4,"labels":false,"title":null}},"y":{"datum":0.0894,"axis":{"orient":"left","values":[0,0.005,0.01,0.015,0.02,0.025,0.03,0.035,0.04,0.045,0.05,0.055,0.06,0.065,0.07,0.075,0.08,0.085,0.09,0.095],"tickSize":-4,"labels":false,"title":null}},"text":{"field":"t"}}},
   {"data":{"values":[{"t":"3He"}]},"mark":{"type":"text","font":"Liberation Sans","fontWeight":"bold","fontSize":14,"color":"#222"},"encoding":{"x":{"datum":37.2,"axis":null},"y":{"datum":0.0775,"axis":null},"text":{"field":"t"}}}
  ]},
  {"width":246,"height":160,"resolve":{"axis":{"x":"independent","y":"independent"}},"layer":[
   {"data":{"name":"h"},"transform":[{"filter":"datum.p==5"},{"fold":["T","R","F","B"],"as":["s","v"]}],
    "mark":{"type":"line","interpolate":"step-after","strokeWidth":3,"clip":true},
    "encoding":{
     "x":{"field":"x","type":"quantitative","scale":{"domain":[0,50],"nice":false},"axis":{"labelOverlap":false,"values":[0,20,40],"labelExpr":"format(datum.value,'d')","tickSize":-8,"title":"Ekin (MeV)"}},
     "y":{"field":"v","type":"quantitative","scale":{"domain":[0,0.1015],"nice":false},"axis":{"labelOverlap":false,"values":[0,0.025,0.05,0.075,0.1],"labelExpr":"format(datum.value,'~g')","tickSize":-8,"title":"arb.units"}},
     "color":{"field":"s","type":"nominal","scale":{"domain":["R","F","B","T"],"range":["#000000","#ee3030","#17a34a","#3a3fa5"]},"legend":null},
     "strokeDash":{"field":"s","type":"nominal","scale":{"domain":["R","F","B","T"],"range":[[1,0],[6,3],[9,4,3,4],[3,3]]},"legend":null}}},
   {"data":{"values":[{"t":"100000 evts"}]},"mark":{"type":"text","font":"Liberation Sans","fontWeight":"bold","fontSize":14,"color":"#222"},"encoding":{"x":{"datum":39.1,"axis":{"orient":"bottom","values":[0,5,10,15,20,25,30,35,40,45,50],"tickSize":-4,"labels":false,"title":null}},"y":{"datum":0.0947,"axis":{"orient":"left","values":[0,0.005,0.01,0.015,0.02,0.025,0.03,0.035,0.04,0.045,0.05,0.055,0.06,0.065,0.07,0.075,0.08,0.085,0.09,0.095,0.1],"tickSize":-4,"labels":false,"title":null}},"text":{"field":"t"}}},
   {"data":{"values":[{"t":"4He"}]},"mark":{"type":"text","font":"Liberation Sans","fontWeight":"bold","fontSize":14,"color":"#222"},"encoding":{"x":{"datum":36.7,"axis":null},"y":{"datum":0.083,"axis":null},"text":{"field":"t"}}}
  ]}
 ]},
{"title":{"text":"GEMINI - Sn 120 - 4 A.MeV","anchor":"middle","align":"right","dx":127,"dy":10,"baseline":"alphabetic","offset":0,"font":"Liberation Sans","fontSize":19,"fontWeight":"bold","color":"#000"},
 "columns":2,"spacing":{"row":45,"column":70},"bounds":"flush",
 "resolve":{"scale":{"color":"independent","strokeDash":"independent"},"legend":{"color":"independent","strokeDash":"independent"}},
 "concat":[
  {"width":246,"height":160,"resolve":{"axis":{"x":"independent","y":"independent"}},"layer":[
   {"data":{"name":"h"},"transform":[{"filter":"datum.p==6"},{"fold":["T","R","F","B"],"as":["s","v"]}],
    "mark":{"type":"line","interpolate":"step-after","strokeWidth":3,"clip":true},
    "encoding":{
     "x":{"field":"x","type":"quantitative","scale":{"domain":[0,50],"nice":false},"axis":{"labelOverlap":false,"values":[0,20,40],"labelExpr":"format(datum.value,'d')","tickSize":-8,"title":"Ekin (MeV)"}},
     "y":{"field":"v","type":"quantitative","scale":{"domain":[0,0.0686],"nice":false},"axis":{"labelOverlap":false,"values":[0,0.02,0.04,0.06],"labelExpr":"format(datum.value,'~g')","tickSize":-8,"title":"arb.units"}},
     "color":{"field":"s","type":"nominal","scale":{"domain":["R","F","B","T"],"range":["#000000","#ee3030","#17a34a","#3a3fa5"]},"legend":null},
     "strokeDash":{"field":"s","type":"nominal","scale":{"domain":["R","F","B","T"],"range":[[1,0],[6,3],[9,4,3,4],[3,3]]},"legend":null}}},
   {"data":{"values":[{"t":"100000 evts"}]},"mark":{"type":"text","font":"Liberation Sans","fontWeight":"bold","fontSize":14,"color":"#222"},"encoding":{"x":{"datum":39.8,"axis":{"orient":"bottom","values":[0,5,10,15,20,25,30,35,40,45,50],"tickSize":-4,"labels":false,"title":null}},"y":{"datum":0.0631,"axis":{"orient":"left","values":[0,0.005,0.01,0.015,0.02,0.025,0.03,0.035,0.04,0.045,0.05,0.055,0.06,0.065],"tickSize":-4,"labels":false,"title":null}},"text":{"field":"t"}}},
   {"data":{"values":[{"t":"Proton"}]},"mark":{"type":"text","font":"Liberation Sans","fontWeight":"bold","fontSize":14,"color":"#222"},"encoding":{"x":{"datum":39.1,"axis":null},"y":{"datum":0.0531,"axis":null},"text":{"field":"t"}}}
  ]},
  {"width":246,"height":160,"resolve":{"axis":{"x":"independent","y":"independent"}},"layer":[
   {"data":{"name":"h"},"transform":[{"filter":"datum.p==7"},{"fold":["T","R","F","B"],"as":["s","v"]}],
    "mark":{"type":"line","interpolate":"step-after","strokeWidth":3,"clip":true},
    "encoding":{
     "x":{"field":"x","type":"quantitative","scale":{"domain":[0,50],"nice":false},"axis":{"labelOverlap":false,"values":[0,20,40],"labelExpr":"format(datum.value,'d')","tickSize":-8,"title":"Ekin (MeV)"}},
     "y":{"field":"v","type":"quantitative","scale":{"domain":[0,0.0708],"nice":false},"axis":{"labelOverlap":false,"values":[0,0.02,0.04,0.06],"labelExpr":"format(datum.value,'~g')","tickSize":-8,"title":"arb.units"}},
     "color":{"field":"s","type":"nominal","scale":{"domain":["R","F","B","T"],"range":["#000000","#ee3030","#17a34a","#3a3fa5"]},"legend":null},
     "strokeDash":{"field":"s","type":"nominal","scale":{"domain":["R","F","B","T"],"range":[[1,0],[6,3],[9,4,3,4],[3,3]]},"legend":null}}},
   {"data":{"values":[{"t":"100000 evts"}]},"mark":{"type":"text","font":"Liberation Sans","fontWeight":"bold","fontSize":14,"color":"#222"},"encoding":{"x":{"datum":38.6,"axis":{"orient":"bottom","values":[0,5,10,15,20,25,30,35,40,45,50],"tickSize":-4,"labels":false,"title":null}},"y":{"datum":0.0638,"axis":{"orient":"left","values":[0,0.005,0.01,0.015,0.02,0.025,0.03,0.035,0.04,0.045,0.05,0.055,0.06,0.065,0.07],"tickSize":-4,"labels":false,"title":null}},"text":{"field":"t"}}},
   {"data":{"values":[{"t":"Deuteron"}]},"mark":{"type":"text","font":"Liberation Sans","fontWeight":"bold","fontSize":14,"color":"#222"},"encoding":{"x":{"datum":39.9,"axis":null},"y":{"datum":0.054,"axis":null},"text":{"field":"t"}}}
  ]},
  {"width":246,"height":160,"resolve":{"axis":{"x":"independent","y":"independent"}},"layer":[
   {"data":{"name":"h"},"transform":[{"filter":"datum.p==8"},{"fold":["T","R","F","B"],"as":["s","v"]}],
    "mark":{"type":"line","interpolate":"step-after","strokeWidth":3,"clip":true},
    "encoding":{
     "x":{"field":"x","type":"quantitative","scale":{"domain":[0,50],"nice":false},"axis":{"labelOverlap":false,"values":[0,20,40],"labelExpr":"format(datum.value,'d')","tickSize":-8,"title":"Ekin (MeV)"}},
     "y":{"field":"v","type":"quantitative","scale":{"domain":[0,0.0683],"nice":false},"axis":{"labelOverlap":false,"values":[0,0.02,0.04,0.06],"labelExpr":"format(datum.value,'~g')","tickSize":-8,"title":"arb.units"}},
     "color":{"field":"s","type":"nominal","scale":{"domain":["R","F","B","T"],"range":["#000000","#ee3030","#17a34a","#3a3fa5"]},"legend":null},
     "strokeDash":{"field":"s","type":"nominal","scale":{"domain":["R","F","B","T"],"range":[[1,0],[6,3],[9,4,3,4],[3,3]]},"legend":null}}},
   {"data":{"values":[{"t":"100000 evts"}]},"mark":{"type":"text","font":"Liberation Sans","fontWeight":"bold","fontSize":14,"color":"#222"},"encoding":{"x":{"datum":39.1,"axis":{"orient":"bottom","values":[0,5,10,15,20,25,30,35,40,45,50],"tickSize":-4,"labels":false,"title":null}},"y":{"datum":0.0626,"axis":{"orient":"left","values":[0,0.005,0.01,0.015,0.02,0.025,0.03,0.035,0.04,0.045,0.05,0.055,0.06,0.065],"tickSize":-4,"labels":false,"title":null}},"text":{"field":"t"}}},
   {"data":{"values":[{"t":"Triton"}]},"mark":{"type":"text","font":"Liberation Sans","fontWeight":"bold","fontSize":14,"color":"#222"},"encoding":{"x":{"datum":39.1,"axis":null},"y":{"datum":0.0526,"axis":null},"text":{"field":"t"}}}
  ]},
  {"width":246,"height":160,"resolve":{"axis":{"x":"independent","y":"independent"}},"layer":[
   {"data":{"name":"h"},"transform":[{"filter":"datum.p==9"},{"fold":["T","R","F","B"],"as":["s","v"]}],
    "mark":{"type":"line","interpolate":"step-after","strokeWidth":3,"clip":true},
    "encoding":{
     "x":{"field":"x","type":"quantitative","scale":{"domain":[0,50],"nice":false},"axis":{"labelOverlap":false,"values":[0,20,40],"labelExpr":"format(datum.value,'d')","tickSize":-8,"title":"Ekin (MeV)"}},
     "y":{"field":"v","type":"quantitative","scale":{"domain":[0,0.0643],"nice":false},"axis":{"labelOverlap":false,"values":[0,0.02,0.04,0.06],"labelExpr":"format(datum.value,'~g')","tickSize":-8,"title":"arb.units"}},
     "color":{"field":"s","type":"nominal","scale":{"domain":["R","F","B","T"],"range":["#000000","#ee3030","#17a34a","#3a3fa5"]},"legend":null},
     "strokeDash":{"field":"s","type":"nominal","scale":{"domain":["R","F","B","T"],"range":[[1,0],[6,3],[9,4,3,4],[3,3]]},"legend":null}}},
   {"data":{"values":[{"t":"100000 evts"}]},"mark":{"type":"text","font":"Liberation Sans","fontWeight":"bold","fontSize":14,"color":"#222"},"encoding":{"x":{"datum":38.1,"axis":{"orient":"bottom","values":[0,5,10,15,20,25,30,35,40,45,50],"tickSize":-4,"labels":false,"title":null}},"y":{"datum":0.0563,"axis":{"orient":"left","values":[0,0.005,0.01,0.015,0.02,0.025,0.03,0.035,0.04,0.045,0.05,0.055,0.06],"tickSize":-4,"labels":false,"title":null}},"text":{"field":"t"}}},
   {"data":{"values":[{"t":"3He"}]},"mark":{"type":"text","font":"Liberation Sans","fontWeight":"bold","fontSize":14,"color":"#222"},"encoding":{"x":{"datum":42.6,"axis":null},"y":{"datum":0.047,"axis":null},"text":{"field":"t"}}}
  ]},
  {"width":246,"height":160,"resolve":{"axis":{"x":"independent","y":"independent"}},"layer":[
   {"data":{"name":"h"},"transform":[{"filter":"datum.p==10"},{"fold":["T","R","F","B"],"as":["s","v"]}],
    "mark":{"type":"line","interpolate":"step-after","strokeWidth":3,"clip":true},
    "encoding":{
     "x":{"field":"x","type":"quantitative","scale":{"domain":[0,50],"nice":false},"axis":{"labelOverlap":false,"values":[0,20,40],"labelExpr":"format(datum.value,'d')","tickSize":-8,"title":"Ekin (MeV)"}},
     "y":{"field":"v","type":"quantitative","scale":{"domain":[0,0.0706],"nice":false},"axis":{"labelOverlap":false,"values":[0,0.02,0.04,0.06],"labelExpr":"format(datum.value,'~g')","tickSize":-8,"title":"arb.units"}},
     "color":{"field":"s","type":"nominal","scale":{"domain":["R","F","B","T"],"range":["#000000","#ee3030","#17a34a","#3a3fa5"]},"legend":null},
     "strokeDash":{"field":"s","type":"nominal","scale":{"domain":["R","F","B","T"],"range":[[1,0],[6,3],[9,4,3,4],[3,3]]},"legend":null}}},
   {"data":{"values":[{"t":"100000 evts"}]},"mark":{"type":"text","font":"Liberation Sans","fontWeight":"bold","fontSize":14,"color":"#222"},"encoding":{"x":{"datum":39.9,"axis":{"orient":"bottom","values":[0,5,10,15,20,25,30,35,40,45,50],"tickSize":-4,"labels":false,"title":null}},"y":{"datum":0.0655,"axis":{"orient":"left","values":[0,0.005,0.01,0.015,0.02,0.025,0.03,0.035,0.04,0.045,0.05,0.055,0.06,0.065,0.07],"tickSize":-4,"labels":false,"title":null}},"text":{"field":"t"}}},
   {"data":{"values":[{"t":"4He"}]},"mark":{"type":"text","font":"Liberation Sans","fontWeight":"bold","fontSize":14,"color":"#222"},"encoding":{"x":{"datum":39.6,"axis":null},"y":{"datum":0.0559,"axis":null},"text":{"field":"t"}}}
  ]}
 ]}
]
}
